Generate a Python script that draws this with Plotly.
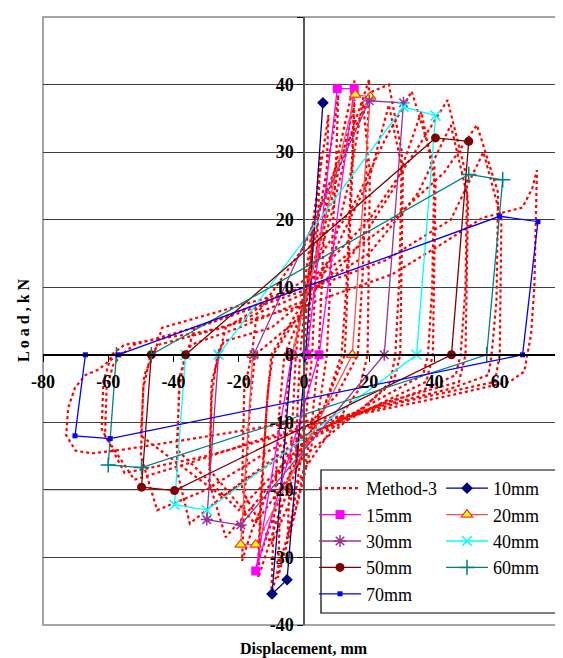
import plotly.graph_objects as go

# ---------------- data ----------------
# Method-3 (analytical hysteresis curve)
m3_x = [0, 1, 2, 2.6, 2, 1.2, 0, -1.5, -2.5, -2, -1.2, 0, 3, 5, 4.3, 2.5, 0, -3, -5,
        -4.3, -2.5, 0, 4, 7.5, 6.8, 4.5, 2, -3, -8, -7.3, -5, -3.5, 0, 5, 9, 10.5,
        9.8, 7, 4, -2, -7, -10, -9.3, -7.5, -6, 0, 6, 12, 15.5,
        14.8, 13, 11.5, 6, 0, -8, -12, -14, -13.3, -11.5, -10, 0, 8, 14, 15.5,
        14.8, 12.5, 6, 0, -8, -14, -13.3, -11, -9.5, 0, 8, 14, 20,
        19.3, 18, 16.5, 10, 0, -10, -16, -19, -18.3, -16.5, -15, 0, 8, 14, 18, 20.2,
        19.5, 17, 10, 0, -10, -19, -18.3, -16, -14.5, 0, 10, 17, 21, 26, 30,
        29.3, 28, 26.5, 18, 5, -5, -15, -24, -29, -28.3, -26.5, -24.5, -10, 0, 10, 20, 26, 30.3,
        29.5, 27.5, 15, 0, -15, -29, -28.3, -26, -24, 0, 15, 25, 33, 40,
        39.3, 38, 36.5, 25, 10, -10, -25, -35, -39, -38.3, -36.5, -34.5, -20, 0, 15, 28, 36, 40.3,
        39.5, 37.5, 20, 0, -20, -39, -38, -36, -33.5, 0, 20, 34, 44, 50,
        49.5, 48, 46.5, 35, 15, -10, -30, -45, -50, -49.3, -47, -44.5, -25, 0, 20, 35, 45, 50.3,
        49.5, 47.5, 25, 0, -25, -50, -49, -46, -43.5, 0, 25, 43, 53, 59.5,
        59, 57.5, 56.5, 45, 20, -10, -35, -52, -61, -60.5, -58.5, -56, -52, -30, 0, 25, 45, 55, 60.5,
        60, 58.5, 30, 0, -30, -55, -62, -61.5, -59, -55, -30, 0, 27, 40.6, 54.8, 67, 70, 71.4, 71,
        70.6, 69.6, 68.5, 67.5, 63, 45, 20, -10, -35, -55, -65, -70, -72.9,
        -72.3, -70.2, -67, -63, -60, -55, -40]
m3_y = [0, 9, 15, 19, 10, 0, -6, -12, -17, -8, 0, 6, 18, 30, 20, 0, -12, -22, -27,
        -17, 0, 10, 24, 35.5, 25, 0, -12, -24, -33, -22, -5, 0, 8, 22, 33, 38.5,
        28, 0, -10, -22, -30, -35.5, -25, -8, 0, 7, 20, 33, 40.6,
        30, 10, 0, -8, -14, -24, -30, -33, -24, -8, 0, 8, 22, 34, 37.8,
        27, 0, -8, -13, -22, -30.5, -21, -5, 0, 7, 20, 32, 40.8,
        30, 12, 0, -6, -11, -19, -26, -30.5, -22, -7, 0, 6, 14, 26, 37.5,
        27, 0, -5, -10, -17, -28, -20, -5, 0, 6, 16, 28, 35, 39, 40,
        30, 12, 0, -4, -8, -11, -16, -22, -27, -19, -6, 0, 2, 4, 8, 16, 26, 37,
        27, 0, -4, -9, -15, -25, -17, -4, 0, 4, 11, 22, 32, 39,
        28, 10, 0, -3, -6, -10, -16, -21, -25, -17, -5, 0, 1.5, 4, 8, 15, 25, 36,
        25, 0, -4, -8, -13, -23, -14, -3, 0, 4, 10, 20, 30, 37.7,
        26, 10, 0, -3, -5.5, -9, -14, -20, -23, -15, -5, 0, 1.5, 4, 9, 15, 24, 34,
        23, 0, -4, -7, -12, -21, -12, -3, 0, 4, 10, 19, 27, 34,
        24, 8, 0, -3, -5, -8, -12, -16, -18.5, -12, -5, -1.5, 0, 1.5, 4.5, 9.5, 14, 20, 30,
        20, 0, -4, -7, -11, -15, -17.5, -11, -4, 0, 1.5, 3.5, 7.3, 11.9, 15.9, 20.3, 21.8, 24.7, 27.3,
        20, 10, 3, 0, -2.5, -4, -6, -8.5, -10.5, -12.5, -14, -14.6, -14.2,
        -11.9, -7.9, -4.9, -3, -2.2, -1, 0.5]

s10_x = [0.5, 5.8, 0.5, -5.2, -9.8, -3.7]
s10_y = [0, 37.3, 0, -33.3, -35.4, 0]
s15_x = [0.9, 10.2, 15.4, 4.6, -14.8, -3.7]
s15_y = [0, 39.4, 39.4, 0, -32.0, 0]
s20_x = [-3.7, 15.7, 20.3, 14.8, -14.8, -19.4, -15.7]
s20_y = [0, 38.5, 38.2, 0, -28.1, -28.1, 0]
s30_x = [-15.4, 20.0, 30.5, 24.6, -19.4, -29.8, -26.2]
s30_y = [0, 37.6, 37.3, 0, -25.2, -24.4, 0]
s40_x = [-26.2, 30.5, 40.3, 34.5, -29.8, -39.7, -36.3]
s40_y = [0, 36.7, 35.4, 0, -23.0, -22.2, 0]
s50_x = [-36.3, 40.3, 50.5, 45.2, -39.7, -49.8, -46.8]
s50_y = [0, 32.1, 31.6, 0, -20.1, -19.6, 0]
s60_x = [-46.8, 50.5, 60.9, 56.0, -49.8, -60.0, -57.5]
s60_y = [0, 26.7, 25.9, 0, -16.7, -16.3, 0]
s70_x = [-57.0, 60.0, 71.7, 67.0, -59.4, -70.2, -67.0]
s70_y = [0, 20.5, 19.7, 0, -12.4, -12.0, 0]

x_ticks = [-80, -60, -40, -20, 0, 20, 40, 60, 80]
x_tick_text = ["-80", "-60", "-40", "-20", "0", "20", "40", "60", "80"]
y_ticks = [-40, -30, -20, -10, 0, 10, 20, 30, 40, 50]
y_tick_text = ["-40", "-30", "-20", "-10", "0", "10", "20", "30", "40", "50"]

# ---------------- figure ----------------
FONT = "Liberation Serif"
W, H = 563, 658
ML, MR, MT, MB = 35, 6, 9, 41
PW, PH = W - ML - MR, H - MT - MB


def px_x(p):  # pixel -> paper x
    return (p - ML) / PW


def px_y(p):  # pixel -> paper y
    return (H - MB - p) / PH


fig = go.Figure()

fig.add_trace(go.Scatter(x=m3_x, y=m3_y, mode="lines", name="Method-3", legend="legend",
                         line=dict(color="#FF0000", width=2.2, dash="dot")))

series = [
    ("10mm", s10_x, s10_y, "#000080", dict(symbol="diamond", size=9, color="#000080"), "legend2"),
    ("15mm", s15_x, s15_y, "#FF00FF", dict(symbol="square", size=9, color="#FF00FF"), "legend"),
    ("20mm", s20_x, s20_y, "#FF5050", dict(symbol="triangle-up", size=10, color="#FFFF00",
                                           line=dict(color="#FF3030", width=1.2)), "legend2"),
    ("30mm", s30_x, s30_y, "#993399", dict(symbol="asterisk-open", size=10,
                                           line=dict(color="#800080", width=1.5)), "legend"),
    ("40mm", s40_x, s40_y, "#00FFFF", dict(symbol="x-thin-open", size=10,
                                           line=dict(color="#00FFFF", width=1.5)), "legend2"),
    ("50mm", s50_x, s50_y, "#800000", dict(symbol="circle", size=9, color="#800000"), "legend"),
    ("60mm", s60_x, s60_y, "#008080", dict(symbol="cross-thin-open", size=11,
                                           line=dict(color="#008080", width=1.5)), "legend2"),
    ("70mm", s70_x, s70_y, "#0000FF", dict(symbol="square", size=5, color="#0000FF"), "legend"),
]
for name, xs, ys, col, mk, lg in series:
    fig.add_trace(go.Scatter(x=xs, y=ys, mode="lines+markers", name=name, legend=lg,
                             line=dict(color=col, width=1.3), marker=mk))

legend_common = dict(xanchor="left", yanchor="top", bgcolor="rgba(0,0,0,0)",
                     borderwidth=0, font=dict(family=FONT, size=18, color="black"),
                     itemwidth=42, tracegroupgap=0, orientation="v")

fig.update_layout(
    width=W, height=H,
    margin=dict(l=ML, r=MR, t=MT, b=MB, autoexpand=False),
    paper_bgcolor="white", plot_bgcolor="white",
    font=dict(family=FONT, color="black"),
    showlegend=True,
    legend=dict(x=px_x(306), y=px_y(462), **legend_common),
    legend2=dict(x=px_x(433), y=px_y(462), **legend_common),
    xaxis=dict(range=[-80, 80], anchor="free", position=40 / 90,
               showline=True, linecolor="black", linewidth=1.5,
               ticks="outside", ticklen=6, tickcolor="black", tickwidth=1,
               tickvals=x_ticks, ticktext=x_tick_text,
               tickfont=dict(family=FONT, size=18, color="black", weight="bold"),
               ticklabelstandoff=5,
               showgrid=False, zeroline=False),
    yaxis=dict(range=[-40, 50], anchor="free", position=0.5,
               showline=True, linecolor="#555555", linewidth=1.5,
               ticks="outside", ticklen=6, tickcolor="black",
               tickvals=y_ticks, ticktext=y_tick_text,
               tickfont=dict(family=FONT, size=18, color="black", weight="bold"),
               showgrid=True, gridcolor="#404040", gridwidth=1.2,
               zeroline=False),
    shapes=[
        dict(type="rect", xref="paper", yref="paper", x0=0, x1=1, y0=0, y1=1,
             line=dict(color="#888888", width=1.5), layer="below"),
        dict(type="line", xref="paper", yref="y", x0=0, x1=1, y0=-20, y1=-20,
             line=dict(color="#d0d0d0", width=2), layer="below"),
        dict(type="rect", xref="paper", yref="paper",
             x0=px_x(313), x1=px_x(557), y0=px_y(605), y1=px_y(462),
             line=dict(color="black", width=1.2), fillcolor="white", layer="above"),
    ],
    annotations=[
        dict(text="L o a d , k N", xref="paper", yref="paper", x=px_x(15), y=px_y(312),
             textangle=-90, showarrow=False, xanchor="center", yanchor="middle",
             font=dict(family=FONT, size=16, color="black", weight="bold")),
        dict(text="Displacement, mm", xref="paper", yref="paper", x=px_x(296), y=px_y(641),
             showarrow=False, xanchor="center", yanchor="middle",
             font=dict(family=FONT, size=16, color="black", weight="bold")),
    ],
)

fig.write_html("out.html")
